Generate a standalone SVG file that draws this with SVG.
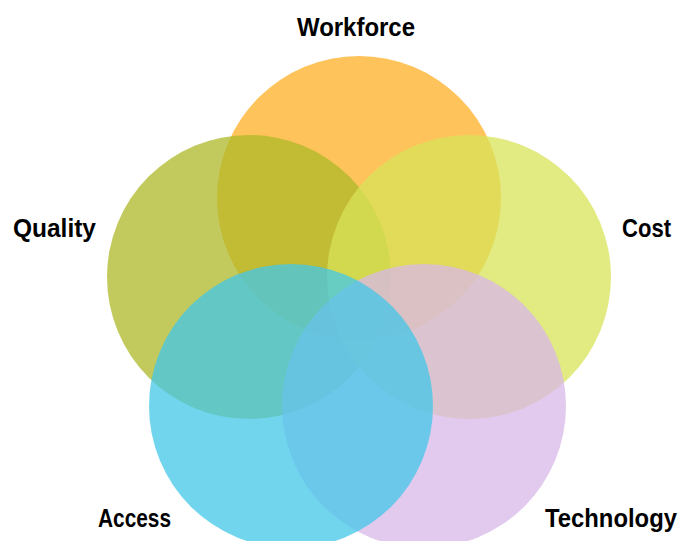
<svg xmlns="http://www.w3.org/2000/svg" width="682" height="541" viewBox="0 0 682 541">
<style>
.c{opacity:0.75}
.lbl{font-family:"Liberation Sans",Arial,sans-serif;font-weight:bold;font-size:25px;fill:#000}
</style>
<rect width="682" height="541" fill="#fff"/>
<g id="workforce"><circle class="c" cx="359" cy="198" r="142" fill="#FFAF24"/></g>
<g id="quality"><circle class="c" cx="249" cy="277" r="142" fill="#AEB827"/></g>
<g id="cost"><circle class="c" cx="469" cy="277" r="142" fill="#D8E358"/></g>
<g id="technology"><circle class="c" cx="424" cy="406" r="142" fill="#D8B7E8"/></g>
<g id="access"><circle class="c" cx="291" cy="406" r="142" fill="#43C7E8"/></g>
<g id="connectors"></g>
<g id="labels">
<text class="lbl" x="297" y="36" textLength="118" lengthAdjust="spacingAndGlyphs">Workforce</text>
<text class="lbl" x="13" y="237" textLength="83" lengthAdjust="spacingAndGlyphs">Quality</text>
<text class="lbl" x="622" y="237" textLength="49" lengthAdjust="spacingAndGlyphs">Cost</text>
<text class="lbl" x="98" y="527" textLength="73" lengthAdjust="spacingAndGlyphs">Access</text>
<text class="lbl" x="545" y="527" textLength="132" lengthAdjust="spacingAndGlyphs">Technology</text>
</g>
</svg>
